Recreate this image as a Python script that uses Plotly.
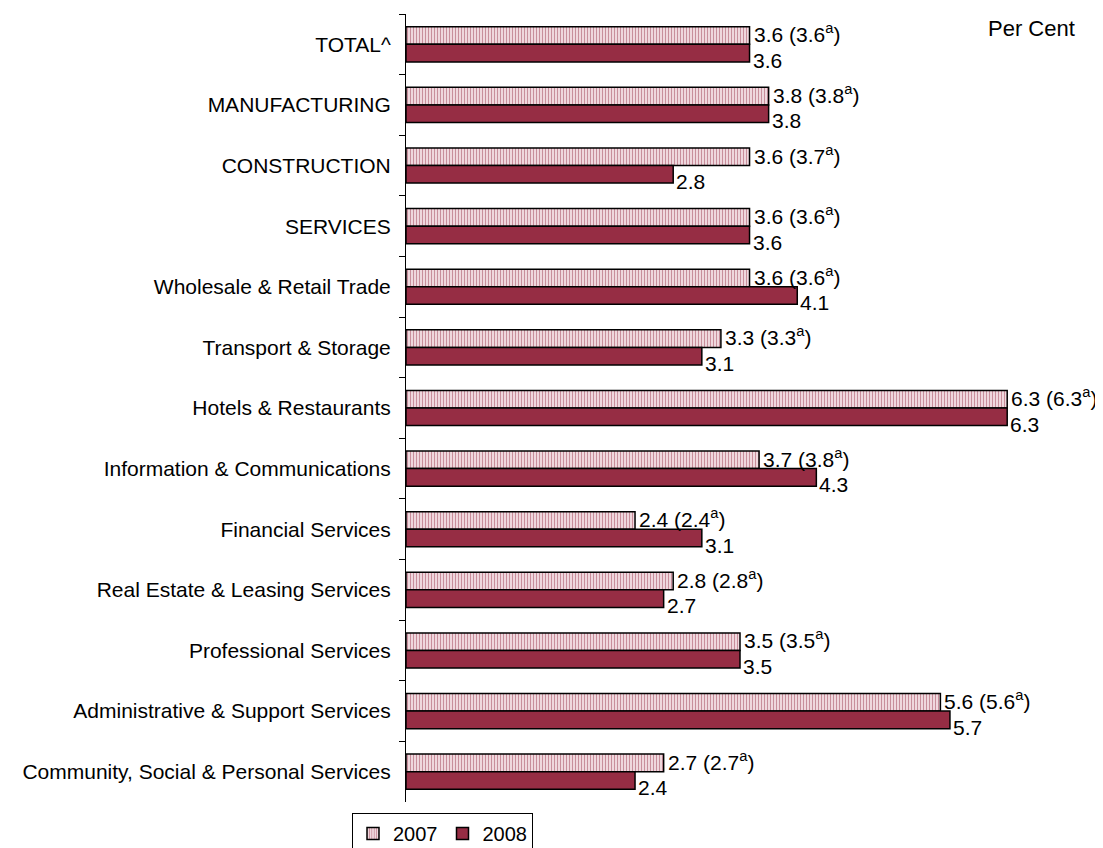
import plotly.graph_objects as go

categories = [
    "TOTAL^", "MANUFACTURING", "CONSTRUCTION", "SERVICES",
    "Wholesale & Retail Trade", "Transport & Storage", "Hotels & Restaurants",
    "Information & Communications", "Financial Services",
    "Real Estate & Leasing Services", "Professional Services",
    "Administrative & Support Services", "Community, Social & Personal Services",
]
v2007 = [3.6, 3.8, 3.6, 3.6, 3.6, 3.3, 6.3, 3.7, 2.4, 2.8, 3.5, 5.6, 2.7]
v2007_rev = [3.6, 3.8, 3.7, 3.6, 3.6, 3.3, 6.3, 3.8, 2.4, 2.8, 3.5, 5.6, 2.7]
v2008 = [3.6, 3.8, 2.8, 3.6, 4.1, 3.1, 6.3, 4.3, 3.1, 2.7, 3.5, 5.7, 2.4]

red = "#962D44"
font = "Liberation Sans, Arial, sans-serif"
fs = 21

# page body has an 8px margin, so the figure is drawn 8px smaller
W, H = 1095, 840

fig = go.Figure()
fig.add_trace(go.Bar(
    y=categories, x=v2007, orientation="h", name="2007",
    marker=dict(color="white", line=dict(color="black", width=1.5),
                pattern=dict(shape="|", fgcolor=red, bgcolor="#FBEFF2",
                             size=3, solidity=0.5)),
))
fig.add_trace(go.Bar(
    y=categories, x=v2008, orientation="h", name="2008",
    marker=dict(color=red, line=dict(color="black", width=1.5)),
))

for c, a, r, b in zip(categories, v2007, v2007_rev, v2008):
    fig.add_annotation(x=a, y=c, xanchor="left", yanchor="middle", xshift=2, yshift=11,
                       text=f"{a:.1f} ({r:.1f}<sup>a</sup>)", showarrow=False,
                       font=dict(size=fs, color="black", family=font))
    fig.add_annotation(x=b, y=c, xanchor="left", yanchor="middle", xshift=1, yshift=-16,
                       text=f"{b:.1f}", showarrow=False,
                       font=dict(size=fs, color="black", family=font))

fig.add_annotation(xref="paper", yref="paper", x=1.0045, y=0.982,
                   xanchor="right", yanchor="middle", text="Per Cent", showarrow=False,
                   font=dict(size=22, color="black", family=font))

fig.update_layout(
    width=W, height=H,
    margin=dict(l=398, r=29, t=6, b=46, autoexpand=False),
    plot_bgcolor="white", paper_bgcolor="white",
    barmode="group", bargap=0.42, bargroupgap=0,
    font=dict(family=font, size=fs, color="black"),
    showlegend=True,
    legend=dict(orientation="h", xref="container", yref="container",
                x=344 / W, y=1 - 805 / H, xanchor="left", yanchor="top",
                bordercolor="black", borderwidth=1, bgcolor="white",
                font=dict(size=20), itemwidth=30, tracegroupgap=0),
    xaxis=dict(range=[0, 7.0], showgrid=False, zeroline=False,
               showticklabels=False, showline=False, ticks="", automargin=False),
    yaxis=dict(autorange="reversed", showline=True, linecolor="black", linewidth=1,
               ticks="outside", tickson="boundaries", ticklen=6, tickcolor="black",
               showgrid=False, ticklabelstandoff=10, automargin=False),
)

fig.write_html("out.html")
